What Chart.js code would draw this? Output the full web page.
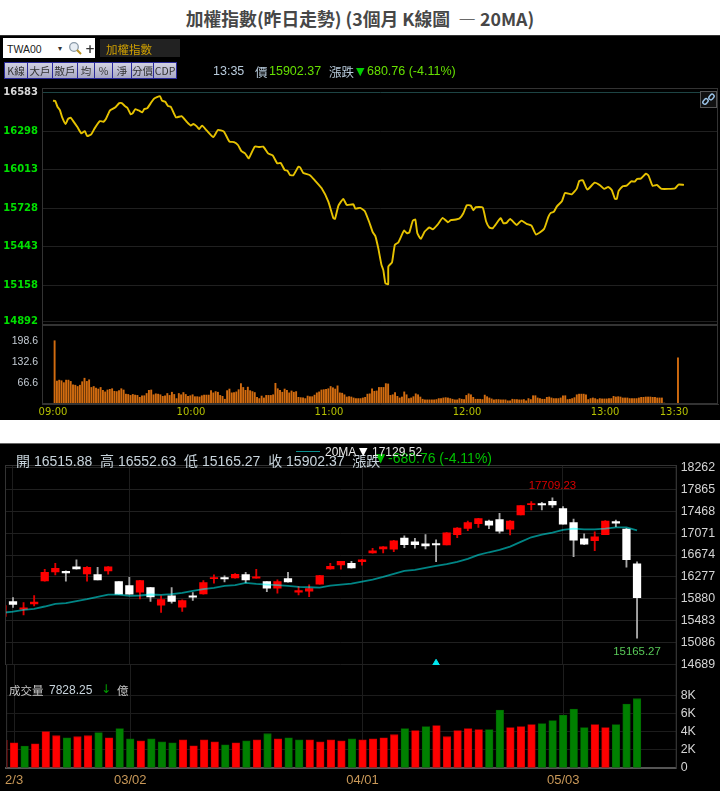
<!DOCTYPE html>
<html lang="zh-Hant"><head><meta charset="utf-8">
<script src="https://cdn.jsdelivr.net/npm/chart.js@4"></script>
<style>
html,body{margin:0;padding:0;background:#fff;width:720px;height:791px;overflow:hidden;font-family:"Liberation Sans","Noto Sans CJK TC",sans-serif}
.p{position:absolute;white-space:pre;line-height:1}
.blk{position:absolute;left:0;width:720px;background:#000}
canvas{position:absolute;left:0;top:0}
.btn{position:absolute;top:62px;height:17px;box-sizing:border-box;border:1px solid #2a2a9a;background:linear-gradient(#d2d2e2,#a8a8c4);color:#333;font:10.5px/15px "Noto Sans CJK TC",sans-serif;text-align:center}
</style></head><body>
<div class="p" style="left:0;width:720px;text-align:center;top:9px;font:700 17.8px/18px 'Noto Sans CJK TC',sans-serif;color:#474747">加權指數(昨日走勢) (3個月 K線圖  — 20MA)</div>
<div class="blk" style="top:35px;height:385px;border-top:1px solid #333;box-sizing:border-box"></div>
<div class="blk" style="top:443px;height:348px;border-top:1px solid #666;box-sizing:border-box"></div>
<div id="layer"></div>
<canvas id="cPrice" width="720" height="791"></canvas>
<canvas id="cTick" width="720" height="791"></canvas>
<canvas id="cCandle" width="720" height="791"></canvas>
<canvas id="cVol" width="720" height="791"></canvas>
<div style="position:absolute;left:3px;top:38px;width:92px;height:20px;background:#fff"></div>
<div class="p" style="left:7px;top:43px;font:10.5px 'Liberation Sans';color:#222">TWA00</div>
<div class="p" style="left:58px;top:44px;font:8px 'DejaVu Sans';color:#333">▾</div>
<svg style="position:absolute;left:68px;top:41px" width="15" height="15"><circle cx="6" cy="6" r="4.3" fill="#e8eef4" stroke="#8a9aa8" stroke-width="1.3"/><line x1="9" y1="9" x2="13" y2="13" stroke="#b89020" stroke-width="2"/></svg>
<div class="p" style="left:85px;top:42px;font:700 12px 'DejaVu Sans';color:#333">+</div>
<div style="position:absolute;left:100px;top:39px;width:80px;height:18px;background:#222"></div>
<div class="p" style="left:106px;top:41px;font:11.5px 'Noto Sans CJK TC';color:#d0a000">加權指數</div>
<div class="btn" style="left:4px;width:24px">K線</div>
<div class="btn" style="left:27px;width:26px">大戶</div>
<div class="btn" style="left:52px;width:26px">散戶</div>
<div class="btn" style="left:77px;width:18px">均</div>
<div class="btn" style="left:94px;width:19px">%</div>
<div class="btn" style="left:112px;width:20px">淨</div>
<div class="btn" style="left:131px;width:23px">分價</div>
<div class="btn" style="left:153px;width:24px">CDP</div>
<div class="p" style="left:213px;top:64px;font:12.5px 'Liberation Sans';color:#b8cbdc">13:35</div>
<div class="p" style="left:255px;top:62px;font:12.5px 'Noto Sans CJK TC';color:#b8cbdc">價</div>
<div class="p" style="left:269px;top:64px;font:12.5px 'Liberation Sans';color:#66e000">15902.37</div>
<div class="p" style="left:329px;top:62px;font:12.5px 'Noto Sans CJK TC';color:#b8cbdc">漲跌</div>
<div class="p" style="left:356px;top:65px;font:11px 'DejaVu Sans';color:#00d000">▼</div>
<div class="p" style="left:367px;top:64px;font:12.5px 'Liberation Sans';color:#66e000">680.76 (-4.11%)</div>
<div style="position:absolute;left:700px;top:91px;width:17px;height:17px;box-sizing:border-box;border:1px solid #555;background:#111"></div>
<svg style="position:absolute;left:701px;top:92px" width="15" height="15" fill="none" stroke="#9cc4e8" stroke-width="1.4"><rect x="1.5" y="7.5" width="6" height="4" rx="2" transform="rotate(-50 4.5 9.5)"/><rect x="7.5" y="3" width="6" height="4" rx="2" transform="rotate(-50 10.5 5)"/></svg>
<div class="p" style="left:16px;top:450px;font:14px 'Liberation Sans','Noto Sans CJK TC';color:#c8d4dc">開 16515.88  高 16552.63  低 15165.27  收 15902.37  漲跌</div>
<div class="p" style="left:376px;top:451px;font:12px 'DejaVu Sans';color:#00c000">▼</div>
<div class="p" style="left:388px;top:450px;font:14px 'Liberation Sans';color:#00c000">-680.76 (-4.11%)</div>
<div style="position:absolute;left:296px;top:451px;width:24px;height:1px;background:#0a8f8f"></div>
<div class="p" style="left:325px;top:445px;font:12px 'Liberation Sans';color:#e8e8e8">20MA</div>
<div class="p" style="left:359px;top:445px;font:11px 'DejaVu Sans';color:#fff">▼</div>
<div class="p" style="left:372px;top:445px;font:12px 'Liberation Sans';color:#e8e8e8">17129.52</div>
<div class="p" style="left:9px;top:682px;font:11.5px 'Noto Sans CJK TC';color:#c8c8c8">成交量</div>
<div class="p" style="left:49px;top:683px;font:12px 'Liberation Sans';color:#c8d4dc">7828.25</div>
<div class="p" style="left:101px;top:682px;font:12px 'DejaVu Sans';color:#00a000">↓</div>
<div class="p" style="left:117px;top:682px;font:11.5px 'Noto Sans CJK TC';color:#c8c8c8">億</div>
<script>
// ---- intraday price ----
const lineMinutes=[0,1,2,3,4,5.5,6.5,7.7,8.8,10.6,12.3,13.8,14.9,16.7,18.1,20.4,21.9,23,24.8,27,28.8,29.9,31.4,32.3,33.8,34.6,35.8,37.5,38.8,39.7,40.9,42.5,43.9,46.5,47.4,48.8,50,51.2,53.5,55.9,58.1,59.9,61,62.5,63.5,64.8,66.8,69.7,71.7,74.3,76.7,78.7,80.4,81.9,83.5,85.1,87.7,89.7,91.4,93.5,95.5,97.5,99,100.7,101.9,103,104.5,106.7,107.4,108.8,111.7,113.9,116.8,119.7,121.9,122.6,124.1,126.2,127.7,130.6,131.4,133.5,135.5,137.5,139,140.1,141.4,142.8,143.6,144.5,145.7,145.8,147.4,148.6,150.1,152.6,153.8,154.9,156.4,157.5,158.4,159.9,161.6,163.6,165.1,167.1,169.4,171.7,172.9,175.2,176.7,178.4,179.9,181.6,182.8,183.8,186.8,188.3,189.7,191.2,194.6,195.8,197.2,198.7,201.6,203.6,205.9,208,210,213.5,215.4,216.4,217.8,219,221.3,222.6,225.5,227.7,228.8,230.3,232.3,235.5,237.8,239.6,241.4,242.9,244.3,245.1,245.9,247.7,249.4,251.4,252.9,254,255.5,257.8,258.9,260.7,262.5,264.6,270.4,271.9,274.3];
const linePrices=[16525,16522,16478,16456,16401,16352,16389,16399,16374,16330,16283,16300,16263,16278,16320,16374,16369,16389,16453,16475,16507,16507,16483,16473,16424,16431,16463,16451,16438,16463,16468,16507,16540,16559,16525,16517,16485,16480,16401,16411,16369,16340,16352,16335,16315,16340,16305,16256,16308,16296,16222,16219,16197,16152,16135,16098,16185,16182,16185,16135,16120,16061,16064,16012,16007,15975,15973,16037,16032,15990,15973,15933,15876,15778,15655,15650,15748,15798,15753,15758,15726,15731,15709,15625,15551,15524,15433,15309,15270,15174,15166,15297,15329,15457,15475,15563,15544,15549,15635,15645,15544,15502,15556,15586,15573,15605,15657,15625,15640,15645,15652,15692,15751,15748,15714,15736,15734,15630,15586,15581,15655,15618,15620,15650,15605,15637,15613,15600,15534,15576,15667,15694,15704,15741,15783,15842,15832,15874,15931,15936,15867,15918,15899,15872,15886,15864,15798,15798,15857,15891,15896,15928,15926,15946,15948,15985,15970,15894,15901,15872,15876,15904,15902];
const priceTicks=[16583,16298,16013,15728,15443,15158,14892];
// ---- intraday volume, one value per minute ----
const tickVolumes=[198.6,72,75,73,67,75,75,71,60,59,55,59,70,81,71,76,52,55,50,47,52,43,38,44,46,48,40,39,42,48,44,31,30,27,30,28,27,21,26,26,33,43,44,29,32,31,29,24,26,33,27,37,30,17,33,29,36,30,24,26,29,23,23,22,26,28,28,28,42,35,39,37,27,24,15,42,47,35,36,38,45,64,52,43,53,42,39,36,21,17,25,19,27,27,27,29,65,48,43,37,47,43,35,41,37,39,21,20,19,17,25,23,23,28,35,38,44,45,46,48,55,51,47,57,35,34,29,22,23,22,19,17,17,17,19,21,31,32,48,40,41,52,52,52,64,63,27,29,36,24,19,22,38,29,17,19,23,32,29,22,15,13,13,13,13,13,14,17,17,19,20,19,17,15,13,13,17,15,14,27,32,29,21,15,15,15,14,28,23,19,16,13,14,14,13,13,13,10,10,15,14,14,13,13,14,10,17,14,26,26,19,17,15,15,21,22,19,17,17,17,19,26,26,14,15,17,20,29,31,31,31,29,14,17,19,17,14,17,16,16,16,17,17,24,22,23,22,19,19,19,17,17,17,17,19,21,21,22,22,22,21,21,19,19,19,3,null,null,null,null,null,145];
const tickVolumeTicks=[66.6,132.6,198.6];
const timeTickMinutes=[0,60,120,180,240,270];
const timeTickLabels=['09:00','10:00','11:00','12:00','13:00','13:30'];
// ---- daily candles, days -1 .. 59 ----
const dayOpen=[15560,15831,15692,15789,16205,16368,16380,16458,16332,16320,16386,16193,16121,16000,16084,15765,15934,15728,15934,15970,16247,16265,16259,16320,16253,16193,16072,16247,16000,16018,16145,16422,16495,16525,16555,16712,16784,16778,16983,16911,16875,16881,16857,17044,17158,17243,17291,17315,17140,17400,17587,17605,17647,17514,17261,16965,16935,17044,17279,17146,16516];
const dayClose=[15759,15777,15716,15819,16362,16434,16350,16422,16452,16223,16458,15964,15964,16211,15915,15867,15831,15849,15909,16175,16265,16241,16326,16223,16277,16072,16193,16187,16030,16066,16302,16470,16561,16440,16585,16748,16820,16929,16863,16863,16839,16857,17074,17164,17261,17333,17213,17104,17291,17569,17605,17581,17581,17231,16941,16869,17002,17291,17249,16591,15902];
const dayHigh=[15759,15903,15813,15940,16416,16525,16386,16585,16464,16452,16464,16193,16271,16217,16090,15934,16084,15861,15994,16211,16314,16296,16338,16362,16416,16193,16223,16362,16102,16133,16308,16525,16561,16561,16597,16796,16827,16941,17020,16977,17044,16947,17080,17170,17291,17339,17309,17430,17297,17569,17641,17629,17709,17550,17327,17056,17092,17297,17309,17158,16552];
const dayLow=[15560,15723,15590,15753,16199,16314,16199,16416,16199,16223,16326,15964,15964,15879,15831,15632,15801,15650,15849,15964,16163,16187,16253,16175,16253,16012,15982,16181,15952,15921,16145,16416,16416,16434,16489,16706,16712,16736,16808,16796,16784,16555,16857,16989,17116,17176,17152,17068,17038,17400,17490,17490,17538,17231,16646,16863,16754,17044,17188,16452,15165];
const ma20=[15626,15650,15680,15698,15741,15789,15801,15837,15873,15915,15958,15958,15934,15940,15958,15952,15964,15988,16024,16054,16078,16115,16127,16169,16151,16139,16127,16115,16097,16090,16084,16121,16139,16157,16193,16229,16277,16332,16386,16404,16440,16477,16507,16549,16603,16676,16724,16766,16826,16911,16995,17044,17080,17128,17152,17140,17140,17152,17176,17176,17122];
const dayVolume=[3.07,2.8,2.43,2.69,4.04,3.59,3.36,3.48,3.59,3.93,3.36,4.37,3.25,3.03,3.25,2.92,2.8,3.14,2.47,3.14,2.92,2.58,2.8,3.03,3.14,3.81,3.25,3.36,3.14,3.14,2.92,3.14,3.03,3.25,3.14,3.25,3.36,3.7,4.37,4.15,4.6,4.71,3.48,4.15,4.37,4.26,4.26,6.43,4.49,4.6,4.82,4.93,5.27,5.87,6.54,4.49,4.82,4.49,4.82,7.1,7.7];
const dayVolumeColor=['r','r','g','r','r','r','g','r','r','g','r','g','g','r','g','g','g','r','r','r','r','g','r','g','r','g','r','g','g','r','r','r','r','g','r','r','r','r','g','r','g','r','r','r','r','r','g','g','r','r','r','g','g','g','g','g','r','r','g','g','g'];
const candleTicks=[18262,17865,17468,17071,16674,16277,15880,15483,15086,14689];
const dateTickDays=[0,11,33,52];
const dateTickLabels=['2/3','03/02','04/01','05/03'];
const volumeTicks=[0,2,4,6,8];
const highLabel='17709.23', lowLabel='15165.27', markerDay=40, markerValue=14712;

const firstDay=-1;
const dayOf=i=>i+firstDay;
const W=720,H=791;
const common={responsive:false,animation:false,devicePixelRatio:1,events:[],plugins:{legend:{display:false},tooltip:{enabled:false}}};
const setTicks=(list)=>(s)=>{s.ticks=list.map(v=>({value:v}))};
const frame=(color,sides)=>({id:'frame',afterDraw(c){const a=c.chartArea,x=c.ctx;x.save();x.strokeStyle=color;x.lineWidth=1;x.beginPath();
  if(sides.includes('t')){x.moveTo(a.left,a.top+.5);x.lineTo(a.right,a.top+.5)}
  if(sides.includes('l')){x.moveTo(a.left+.5,a.top);x.lineTo(a.left+.5,a.bottom)}
  if(sides.includes('r')){x.moveTo(a.right-.5,a.top);x.lineTo(a.right-.5,a.bottom)}
  if(sides.includes('b')){x.moveTo(a.left,a.bottom-.5);x.lineTo(a.right,a.bottom-.5)}
  x.stroke();x.restore()}});

const intradayX={type:'linear',offset:false,min:-4.78,max:289.1};
// price pane
new Chart(document.getElementById('cPrice'),{type:'line',
 data:{datasets:[{data:lineMinutes.map((m,i)=>({x:m,y:linePrices[i]})),borderColor:'#e6c200',borderWidth:1.9,pointRadius:0,tension:.15}]},
 options:{...common,layout:{autoPadding:false,padding:{left:0,right:2,top:88,bottom:H-325}},
  scales:{x:{...intradayX,display:false},
   y:{min:14864,max:16619,afterBuildTicks:setTicks(priceTicks),afterFit(s){s.width=42},
    grid:{drawTicks:false,color:c=>c.tick&&c.tick.value===16583?'#1d4444':'#202020'},border:{color:'#333'},
    ticks:{autoSkip:false,padding:4,font:{family:'DejaVu Sans',size:10,weight:'700'},color:c=>c.tick.value===16583?'#d8d8d8':'#00e000',callback:v=>String(v)}}}},
 plugins:[frame('#333','trlb')]});
// minute volume pane
new Chart(document.getElementById('cTick'),{type:'bar',
 data:{datasets:[{data:tickVolumes.map((v,i)=>({x:i+.7,y:v})),backgroundColor:'#d26c10',barThickness:1.25}]},
 options:{...common,layout:{autoPadding:false,padding:{left:0,right:2,top:325,bottom:H-404-20}},
  scales:{x:{...intradayX,afterBuildTicks:setTicks(timeTickMinutes),afterFit(s){s.height=20},grid:{display:false,drawTicks:false,offset:false},border:{color:'#333'},
    ticks:{autoSkip:false,maxRotation:0,padding:2,font:{family:'DejaVu Sans',size:10},color:'#b4c000',callback:v=>timeTickLabels[timeTickMinutes.indexOf(v)]}},
   y:{min:0,max:248,afterBuildTicks:setTicks(tickVolumeTicks),afterFit(s){s.width=42},grid:{display:false,drawTicks:false},border:{color:'#333'},
    ticks:{autoSkip:false,padding:4,font:{family:'Liberation Sans',size:10.5},color:'#c4ccd4',callback:v=>String(v)}}}},
 plugins:[frame('#333','trlb')]});

const redDay=i=>dayClose[i]>dayOpen[i];
const dailyX={type:'linear',offset:false,min:-.756,max:62.75};
// candle pane
new Chart(document.getElementById('cCandle'),{type:'bar',
 data:{datasets:[
  {type:'line',order:0,data:ma20.map((v,i)=>({x:dayOf(i),y:v})),borderColor:'rgba(0,255,255,.52)',borderWidth:1.8,pointRadius:0},
  {type:'line',order:0,showLine:false,data:[{x:markerDay,y:markerValue}],pointStyle:'triangle',pointRadius:4,pointBackgroundColor:'#00e8f0',pointBorderColor:'#00e8f0'},
  {order:1,grouped:false,barThickness:7.6,data:dayOpen.map((o,i)=>({x:dayOf(i),y:[o,dayClose[i]]})),backgroundColor:dayOpen.map((o,i)=>redDay(i)?'#ff0000':'#ffffff'),borderSkipped:false,minBarLength:1},
  {order:2,grouped:false,barThickness:1.2,data:dayLow.map((l,i)=>({x:dayOf(i),y:[l,dayHigh[i]]})),backgroundColor:dayLow.map((l,i)=>redDay(i)?'#e00000':'#a8a8a8')}
 ]},
 options:{...common,layout:{autoPadding:false,padding:{left:5,right:0,top:465,bottom:H-665}},
  scales:{x:{...dailyX,display:true,afterBuildTicks:setTicks(dateTickDays),afterFit(s){s.height=0},grid:{color:'#1d1d1d',drawTicks:false,offset:false},border:{display:false},ticks:{display:false}},
   y:{position:'right',min:14681,max:18305,afterBuildTicks:setTicks(candleTicks),afterFit(s){s.width=43.3},grid:{color:'#202020',drawTicks:false},border:{color:'#333'},
    ticks:{autoSkip:false,padding:4,font:{family:'Liberation Sans',size:12.4},color:'#d4d4d4',callback:v=>String(v)}}}},
 plugins:[frame('#333','tlr'),{id:'extremes',afterDatasetsDraw(c){const xs=c.scales.x,ys=c.scales.y,x=c.ctx;x.save();x.font='11.4px "Liberation Sans"';x.textAlign='center';x.textBaseline='middle';
   const hi=dayHigh.indexOf(Math.max(...dayHigh)),lo=dayLow.indexOf(Math.min(...dayLow));
   x.fillStyle='#d80000';x.fillText(highLabel,xs.getPixelForValue(dayOf(hi)),ys.getPixelForValue(dayHigh[hi])-12);
   x.fillStyle='#58c858';x.fillText(lowLabel,xs.getPixelForValue(dayOf(lo)),ys.getPixelForValue(dayLow[lo])+13.5);x.restore()}}]});
// daily volume pane
new Chart(document.getElementById('cVol'),{type:'bar',
 data:{datasets:[{data:dayVolume.map((v,i)=>({x:dayOf(i),y:v})),barThickness:7.6,borderWidth:.8,borderSkipped:false,
   backgroundColor:dayVolumeColor.map(c=>c==='r'?'#ff0000':'#008000'),borderColor:dayVolumeColor.map(c=>c==='r'?'#c80000':'#006400')}]},
 options:{...common,layout:{autoPadding:false,padding:{left:5,right:0,top:665,bottom:0}},
  scales:{x:{...dailyX,afterBuildTicks:setTicks(dateTickDays),afterFit(s){s.height=23},grid:{color:'#1d1d1d',drawTicks:false,offset:false},border:{color:'#555',width:2},
    ticks:{autoSkip:false,maxRotation:0,padding:5,font:{family:'Liberation Sans',size:13},color:'#c89858',callback:v=>dateTickLabels[dateTickDays.indexOf(v)]}},
   y:{position:'right',min:0,max:11.44,afterBuildTicks:setTicks(volumeTicks),afterFit(s){s.width=43.3},grid:{color:'#1c1c1c',drawTicks:false},border:{color:'#333'},
    ticks:{autoSkip:false,padding:4,font:{family:'Liberation Sans',size:12.4},color:'#d4d4d4',callback:v=>v?v+'K':'0'}}}},
 plugins:[frame('#333','lr')]});
</script>
</body></html>
